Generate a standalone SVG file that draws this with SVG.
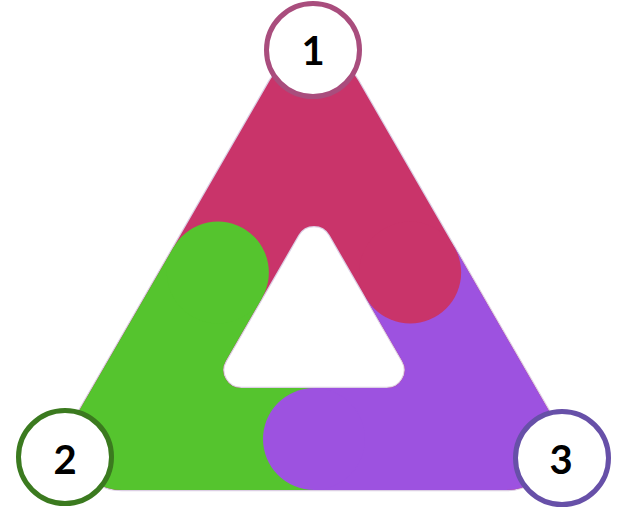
<svg xmlns="http://www.w3.org/2000/svg" width="617" height="508" viewBox="0 0 617 508">
<style>
.num{font-family:Lato,"Open Sans","Liberation Sans",sans-serif;font-weight:bold;font-size:40px;fill:#000;text-anchor:middle}
.badge{fill:#fff;stroke-width:5}
</style>
<defs>
<clipPath id="ringClip">
<path clip-rule="evenodd" d="M269.83,80.5 A51,51 0 0 1 358.17,80.5 L550.47,413.5 A51,51 0 0 1 506.3,490 L121.7,490 A51,51 0 0 1 77.53,413.5 Z M298.41,235 A18,18 0 0 1 329.59,235 L402.31,361 A18,18 0 0 1 386.72,388 L241.28,388 A18,18 0 0 1 225.69,361 Z"/>
</clipPath>
</defs>
<rect width="617" height="508" fill="#fff"/>
<g id="connectors"></g>
<g id="ring">
<path d="M269.83,80.5 A51,51 0 0 1 358.17,80.5 L550.47,413.5 A51,51 0 0 1 506.3,490 L121.7,490 A51,51 0 0 1 77.53,413.5 Z M298.41,235 A18,18 0 0 1 329.59,235 L402.31,361 A18,18 0 0 1 386.72,388 L241.28,388 A18,18 0 0 1 225.69,361 Z" fill="none" stroke="#dccfe4" stroke-width="2.5"/>
<g clip-path="url(#ringClip)">
<rect id="seg1" x="0" y="0" width="617" height="508" fill="#c9346a"/>
<g id="seg2" fill="#55c42e">
<polygon points="314,328 140.8,228 -32.4,528 314,528"/>
<circle cx="217.85" cy="272.5" r="51"/>
</g>
<g id="seg3" fill="#9d52e0">
<polygon points="314,328 314,528 660.4,528 487.2,228"/>
<circle cx="314" cy="439" r="51"/>
</g>
<circle id="seg1cap" cx="410.15" cy="272.5" r="51" fill="#c9346a"/>
</g>
</g>
<g id="node1">
<circle class="badge" cx="313" cy="50" r="46.5" stroke="#a94d7d"/>
<text class="num" x="313" y="65">1</text>
</g>
<g id="node2">
<circle class="badge" cx="65" cy="457" r="46.5" stroke="#3b7a1f"/>
<text class="num" x="65" y="473.5">2</text>
</g>
<g id="node3">
<circle class="badge" cx="562" cy="458" r="46.5" stroke="#6750a8"/>
<text class="num" x="561" y="474">3</text>
</g>
</svg>
